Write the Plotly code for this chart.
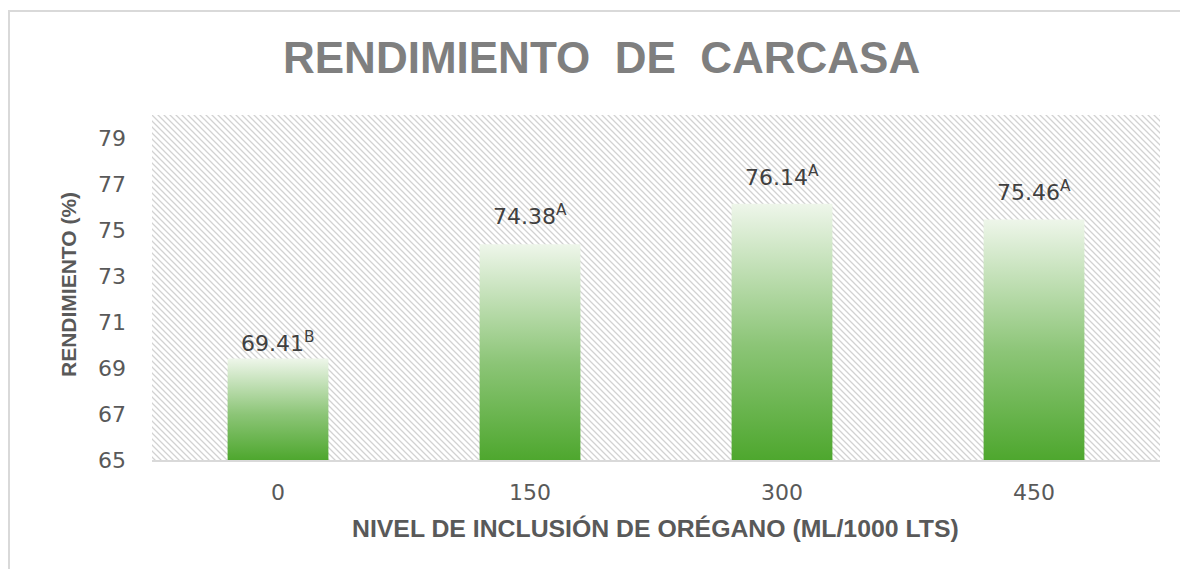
import base64
import plotly.graph_objects as go

# ---- data ----
categories = ["0", "150", "300", "450"]
values = [69.41, 74.38, 76.14, 75.46]
letters = ["B", "A", "A", "A"]
y_ticks = [65, 67, 69, 71, 73, 75, 77, 79]

TITLE = "RENDIMIENTO\u00a0\u00a0DE\u00a0\u00a0CARCASA"
X_TITLE = "NIVEL DE INCLUSIÓN DE ORÉGANO (ML/1000 LTS)"
Y_TITLE = "RENDIMIENTO (%)"

# ---- layout constants (pixels, target picture coordinates) ----
W, H = 1180, 569
FIG_H = 582  # photographed height is compressed to 569
PX_L, PX_R, PX_T, PX_B = 152, 1160, 115, 460
Y_MIN, Y_MAX = 65, 80
BAR_W = 0.4
LABEL_SHIFT = [1, 13, 12, 12]

def px(x):
    return x / W

def py(y):
    return 1 - y / H

fig = go.Figure()

xs = list(range(len(categories)))
for i, v in zip(xs, values):
    fig.add_trace(go.Scatter(
        x=[i - BAR_W / 2, i - BAR_W / 2, i + BAR_W / 2, i + BAR_W / 2, i - BAR_W / 2],
        y=[Y_MIN, v, v, Y_MIN, Y_MIN],
        mode="lines",
        line=dict(width=0),
        fill="toself",
        fillgradient=dict(
            type="vertical",
            colorscale=[[0, "#4ea72e"], [0.45, "#8cc577"], [1, "#eef6ea"]],
        ),
        hoverinfo="skip",
        showlegend=False,
    ))

annotations = []
for i, (v, l, s) in enumerate(zip(values, letters, LABEL_SHIFT)):
    annotations.append(dict(
        x=i, y=v, xref="x", yref="y",
        text=f"{v:.2f}<sup>{l}</sup>",
        showarrow=False, yanchor="bottom", yshift=s,
        font=dict(family="DejaVu Sans", size=22, color="#404040"),
    ))

annotations.append(dict(
    x=px(602), y=py(57), xref="paper", yref="paper",
    text=f"<b>{TITLE}</b>", showarrow=False,
    xanchor="center", yanchor="middle",
    font=dict(family="Liberation Sans", size=44, color="#7f7f7f"),
))
annotations.append(dict(
    x=px(655), y=py(528), xref="paper", yref="paper",
    text=f"<b>{X_TITLE}</b>", showarrow=False,
    xanchor="center", yanchor="middle",
    font=dict(family="Liberation Sans", size=24.8, color="#595959"),
))
annotations.append(dict(
    x=px(68), y=py(285), xref="paper", yref="paper",
    text=f"<b>{Y_TITLE}</b>", showarrow=False, textangle=-90,
    xanchor="center", yanchor="middle",
    font=dict(family="Liberation Sans", size=21, color="#595959"),
))

# hatch background
svg = (
    "<svg xmlns='http://www.w3.org/2000/svg' width='1008' height='345'>"
    "<defs><pattern id='p' width='6' height='6' patternUnits='userSpaceOnUse'>"
    "<path d='M0,0 L6,6 M-1,5 L1,7 M5,-1 L7,1' stroke='#d2d2d2' stroke-width='1.3'/>"
    "</pattern></defs><rect width='1008' height='345' fill='url(#p)'/></svg>"
)
src = "data:image/svg+xml;base64," + base64.b64encode(svg.encode()).decode()

fig.update_layout(
    width=W, height=FIG_H,
    margin=dict(l=0, r=0, t=0, b=0),
    paper_bgcolor="white",
    plot_bgcolor="rgba(0,0,0,0)",
    annotations=annotations,
    images=[dict(
        source=src, xref="paper", yref="paper",
        x=px(PX_L), y=py(PX_T), sizex=px(PX_R) - px(PX_L), sizey=py(PX_T) - py(PX_B),
        xanchor="left", yanchor="top", sizing="stretch", layer="below",
    )],
    shapes=[dict(
        type="rect", xref="paper", yref="paper",
        x0=px(9), x1=1.02, y0=-0.05, y1=py(11),
        line=dict(color="#d9d9d9", width=2), fillcolor="rgba(0,0,0,0)",
    )],
    xaxis=dict(
        domain=[px(PX_L), px(PX_R)],
        range=[-0.5, len(categories) - 0.5],
        tickvals=xs, ticktext=categories,
        showgrid=False, zeroline=False,
        showline=True, linecolor="#d9d9d9", linewidth=1.5,
        ticks="", ticklabelstandoff=12,
        tickfont=dict(family="DejaVu Sans", size=22, color="#595959"),
    ),
    yaxis=dict(
        domain=[py(PX_B), py(PX_T)],
        range=[Y_MIN, Y_MAX],
        tickvals=y_ticks,
        showgrid=False, zeroline=False, showline=False,
        ticks="", ticklabelstandoff=25,
        tickfont=dict(family="DejaVu Sans", size=22, color="#595959"),
    ),
)

fig.write_html(
    "out.html",
    config={"displayModeBar": False},
    post_script=(
        "document.body.style.margin='0';"
        "document.body.style.overflow='hidden';"
        "document.documentElement.style.overflow='hidden';"
    ),
)
